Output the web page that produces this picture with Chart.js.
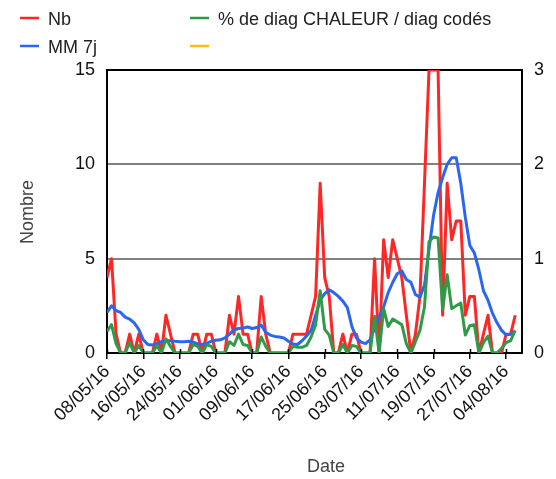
<!DOCTYPE html>
<html>
<head>
<meta charset="utf-8">
<script src="https://cdn.jsdelivr.net/npm/chart.js@4.4.1/dist/chart.umd.min.js"></script>
<style>
  html, body { margin: 0; padding: 0; background: #fff; }
  #cadre { width: 556px; height: 479px; }
</style>
</head>
<body>
<div id="cadre"><canvas id="graphe" width="556" height="479"></canvas></div>
<script>
// Jours de la période (08/05/16 -> 06/08/16)
const jours = [
  "08/05/16","09/05/16","10/05/16","11/05/16","12/05/16","13/05/16","14/05/16","15/05/16",
  "16/05/16","17/05/16","18/05/16","19/05/16","20/05/16","21/05/16","22/05/16","23/05/16",
  "24/05/16","25/05/16","26/05/16","27/05/16","28/05/16","29/05/16","30/05/16","31/05/16",
  "01/06/16","02/06/16","03/06/16","04/06/16","05/06/16","06/06/16","07/06/16","08/06/16",
  "09/06/16","10/06/16","11/06/16","12/06/16","13/06/16","14/06/16","15/06/16","16/06/16",
  "17/06/16","18/06/16","19/06/16","20/06/16","21/06/16","22/06/16","23/06/16","24/06/16",
  "25/06/16","26/06/16","27/06/16","28/06/16","29/06/16","30/06/16","01/07/16","02/07/16",
  "03/07/16","04/07/16","05/07/16","06/07/16","07/07/16","08/07/16","09/07/16","10/07/16",
  "11/07/16","12/07/16","13/07/16","14/07/16","15/07/16","16/07/16","17/07/16","18/07/16",
  "19/07/16","20/07/16","21/07/16","22/07/16","23/07/16","24/07/16","25/07/16","26/07/16",
  "27/07/16","28/07/16","29/07/16","30/07/16","31/07/16","01/08/16","02/08/16","03/08/16",
  "04/08/16","05/08/16","06/08/16"
];

// Nombre de passages (axe de gauche)
const nb = [
  4, 5, 1, 0, 0, 1, 0, 1, 0, 0, 0, 1, 0, 2, 1, 0,
  0, 0, 0, 1, 1, 0, 1, 1, 0, 0, 0, 2, 1, 3, 1, 1,
  0, 0, 3, 1, 0, 0, 0, 0, 0, 1, 1, 1, 1, 2, 3, 9,
  4, 3, 0, 0, 1, 0, 1, 1, 0, 0, 0, 5, 0, 6, 4, 6,
  5, 4, 2, 0, 1, 3, 9, 15, 15, 15, 2, 9, 6, 7, 7, 2,
  3, 3, 0, 1, 2, 0, 0, 0, 1, 1, 2
];

// Moyenne mobile sur 7 jours (axe de gauche)
const mm7j = [
  2.15, 2.5, 2.25, 2.15, 1.9, 1.8, 1.6, 1.25, 0.7, 0.45, 0.42, 0.5, 0.6, 0.65, 0.65, 0.62,
  0.6, 0.6, 0.62, 0.58, 0.48, 0.45, 0.52, 0.62, 0.68, 0.7, 0.8, 1.0, 1.22, 1.3, 1.32, 1.38,
  1.3, 1.35, 1.48, 1.1, 0.95, 0.88, 0.85, 0.8, 0.62, 0.48, 0.45, 0.65, 0.9, 1.2, 2.0, 2.8,
  3.15, 3.35, 3.2, 3.0, 2.75, 2.4, 1.4, 0.8, 0.58, 0.5, 0.7, 1.3, 1.9, 2.45, 3.2, 3.75,
  4.2, 4.35, 3.9, 3.75, 3.1, 2.95, 3.6, 5.5, 7.3, 8.5, 9.3, 10.0, 10.35, 10.35, 9.0, 7.2,
  5.7, 5.3, 4.4, 3.3, 2.8, 2.1, 1.6, 1.2, 0.95, 1.0, 1.15
];

// Part des diagnostics CHALEUR parmi les diagnostics codés (axe de droite)
const pctChaleur = [
  0.23, 0.30, 0.10, 0, 0, 0.11, 0, 0.08, 0, 0, 0, 0.08, 0, 0.15, 0.07, 0,
  0, 0, 0, 0.09, 0.07, 0, 0.09, 0.07, 0, 0, 0, 0.12, 0.08, 0.2, 0.09, 0.08,
  0, 0, 0.17, 0.07, 0, 0, 0, 0, 0, 0.07, 0.06, 0.06, 0.08, 0.17, 0.3, 0.66,
  0.25, 0.19, 0, 0, 0.09, 0, 0.08, 0.07, 0, 0, 0, 0.39, 0, 0.47, 0.28, 0.36,
  0.33, 0.3, 0.1, 0, 0.12, 0.24, 0.49, 1.18, 1.23, 1.22, 0.46, 0.83, 0.47, 0.5, 0.53, 0.19,
  0.29, 0.3, 0, 0.11, 0.18, 0, 0, 0.05, 0.11, 0.13, 0.24
];

// Quatrième série de la légende, sans valeurs
const serieVide = [];

const nomsSeries = ["Nb", "MM 7j", "% de diag CHALEUR / diag codés", ""];
const couleurs = ["#ff2626", "#2b67ee", "#2f9a48", "#fbbd1c"];

const pointsDe = (serie) => serie.map((v, i) => ({ x: i, y: v }));

const police = "'Liberation Sans', Arial, sans-serif";

// Légende sur deux colonnes, graduations traversant l'axe des dates, titres des axes
const habillage = {
  id: 'habillage',
  afterDraw(chart) {
    const ctx = chart.ctx;
    ctx.save();

    const sx = chart.scales.x;
    const bas = chart.chartArea.bottom;
    ctx.strokeStyle = '#000';
    ctx.lineWidth = 1.5;
    sx.ticks.forEach((t) => {
      const px = Math.round(sx.getPixelForValue(t.value)) + 0.5;
      ctx.beginPath();
      ctx.moveTo(px, bas - 4);
      ctx.lineTo(px, bas);
      ctx.stroke();
    });

    const places = [[20, 18], [20, 46], [190, 18], [190, 46]];
    chart.data.datasets.forEach((ds) => {
      const [x, y] = places[ds.rangLegende];
      ctx.strokeStyle = ds.borderColor;
      ctx.lineWidth = 2.5;
      ctx.beginPath();
      ctx.moveTo(x, y);
      ctx.lineTo(x + 19, y);
      ctx.stroke();
      ctx.fillStyle = '#222';
      ctx.font = '18px ' + police;
      ctx.textBaseline = 'alphabetic';
      ctx.textAlign = 'left';
      ctx.fillText(ds.label, x + 28, y + 7);
    });

    ctx.fillStyle = '#444';
    ctx.font = '18px ' + police;
    ctx.textAlign = 'center';
    ctx.textBaseline = 'middle';
    ctx.fillText('Date', 326, 467);
    ctx.translate(28, 212);
    ctx.rotate(-Math.PI / 2);
    ctx.fillText('Nombre', 0, 0);
    ctx.restore();
  }
};

new Chart(document.getElementById('graphe'), {
  type: 'line',
  data: {
    datasets: [
      { label: nomsSeries[0], data: pointsDe(nb), borderColor: couleurs[0], yAxisID: 'y', order: 3, rangLegende: 0 },
      { label: nomsSeries[1], data: pointsDe(mm7j), borderColor: couleurs[1], yAxisID: 'y', order: 2, rangLegende: 1 },
      { label: nomsSeries[2], data: pointsDe(pctChaleur), borderColor: couleurs[2], yAxisID: 'y1', order: 1, rangLegende: 2 },
      { label: nomsSeries[3], data: pointsDe(serieVide), borderColor: couleurs[3], yAxisID: 'y1', order: 4, rangLegende: 3 }
    ]
  },
  options: {
    responsive: false,
    animation: false,
    devicePixelRatio: 1,
    layout: { padding: { top: 70, left: 0, right: 0, bottom: 0 } },
    elements: {
      line: { borderWidth: 3, tension: 0, fill: false, borderJoinStyle: 'round' },
      point: { radius: 0 }
    },
    plugins: { legend: { display: false }, tooltip: { enabled: false } },
    scales: {
      x: {
        type: 'linear',
        min: 0,
        max: 91.5,
        afterFit: (s) => { s.height = 126; },
        border: { display: true, color: '#000', width: 2 },
        grid: { drawOnChartArea: false, drawTicks: true, tickLength: 6, color: '#000', lineWidth: 1.5 },
        ticks: {
          stepSize: 8,
          includeBounds: false,
          autoSkip: false,
          minRotation: 45,
          maxRotation: 45,
          padding: 2,
          color: '#111',
          font: { family: police, size: 18 },
          callback: (v) => jours[v] ?? ''
        }
      },
      y: {
        position: 'left',
        min: 0,
        max: 15,
        afterFit: (s) => { s.width = 107; },
        border: { display: true, color: '#000', width: 2 },
        grid: {
          drawTicks: false,
          lineWidth: 2,
          color: (c) => (c.tick && (c.tick.value === 15 || c.tick.value === 0)) ? '#000' : '#808080'
        },
        ticks: { stepSize: 5, padding: 12, color: '#111', font: { family: police, size: 18 } }
      },
      y1: {
        position: 'right',
        min: 0,
        max: 3,
        afterFit: (s) => { s.width = 34; },
        border: { display: true, color: '#000', width: 2 },
        grid: { drawOnChartArea: false, drawTicks: false },
        ticks: { stepSize: 1, padding: 12, color: '#111', font: { family: police, size: 18 } }
      }
    }
  },
  plugins: [habillage]
});
</script>
</body>
</html>
